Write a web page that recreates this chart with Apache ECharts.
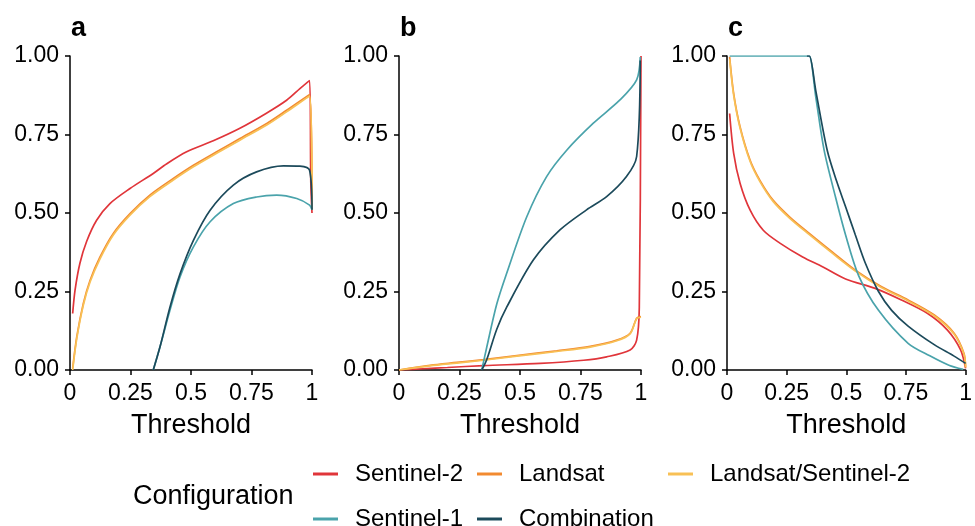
<!DOCTYPE html>
<html><head><meta charset="utf-8">
<script src="https://cdn.jsdelivr.net/npm/echarts@6/dist/echarts.min.js"></script>
<style>html,body{margin:0;padding:0;background:#fff}#c{width:975px;height:526px}</style>
</head><body><div id="c"></div>
<script>
// Series names / legend
const seriesNames = ['Sentinel-2', 'Landsat', 'Landsat/Sentinel-2', 'Sentinel-1', 'Combination'];
const panelLetters = ['a', 'b', 'c'];
const xTicks = [0, 0.25, 0.5, 0.75, 1];
const yTicks = [0, 0.25, 0.5, 0.75, 1];

// Panel a: [threshold, value]
const a_S2 = [[0.011,0.18],[0.021,0.255],[0.041,0.34],[0.069,0.41],[0.11,0.477],[0.165,0.53],[0.248,0.578],[0.344,0.626],[0.40,0.657],[0.482,0.695],[0.592,0.73],[0.70,0.769],[0.81,0.817],[0.895,0.859],[0.95,0.896],[0.99,0.922],[0.995,0.60],[1.0,0.50]];
const a_L = [[0.011,0.005],[0.028,0.106],[0.055,0.212],[0.083,0.286],[0.124,0.36],[0.179,0.435],[0.248,0.498],[0.33,0.557],[0.427,0.61],[0.51,0.652],[0.606,0.695],[0.702,0.737],[0.813,0.785],[0.895,0.827],[0.99,0.877],[1.0,0.51]];
const a_LS2 = [[0.011,0.0],[0.028,0.10],[0.055,0.206],[0.083,0.28],[0.124,0.354],[0.179,0.43],[0.248,0.493],[0.33,0.552],[0.427,0.605],[0.51,0.647],[0.606,0.69],[0.702,0.732],[0.813,0.78],[0.895,0.822],[0.99,0.872],[1.0,0.51]];
const a_S1 = [[0.344,0.0],[0.372,0.074],[0.413,0.19],[0.455,0.297],[0.51,0.392],[0.579,0.472],[0.675,0.53],[0.771,0.551],[0.854,0.557],[0.937,0.546],[0.99,0.525],[1.0,0.51]];
const a_Comb = [[0.344,0.0],[0.372,0.074],[0.413,0.2],[0.455,0.307],[0.51,0.413],[0.579,0.509],[0.675,0.589],[0.771,0.631],[0.882,0.65],[0.95,0.649],[0.99,0.636],[1.0,0.51]];

// Panel b
const b_S2 = [[0.0,0.0],[0.1,0.004],[0.2,0.008],[0.35,0.014],[0.583,0.021],[0.763,0.031],[0.858,0.042],[0.955,0.064],[0.982,0.095],[0.993,0.2],[1.0,1.0]];
const b_L = [[0.0,0.0],[0.128,0.015],[0.239,0.024],[0.35,0.033],[0.487,0.046],[0.652,0.061],[0.79,0.075],[0.9,0.095],[0.955,0.117],[0.982,0.165],[1.0,0.17]];
const b_LS2 = [[0.0,0.0],[0.128,0.013],[0.239,0.022],[0.35,0.031],[0.487,0.044],[0.652,0.059],[0.79,0.073],[0.9,0.093],[0.955,0.115],[0.982,0.163],[1.0,0.168]];
const b_S1 = [[0.342,0.0],[0.363,0.074],[0.404,0.21],[0.445,0.308],[0.528,0.488],[0.61,0.616],[0.693,0.70],[0.803,0.786],[0.913,0.86],[0.982,0.924],[0.997,0.997]];
const b_Comb = [[0.342,0.0],[0.362,0.032],[0.404,0.13],[0.445,0.2],[0.555,0.35],[0.665,0.446],[0.775,0.51],[0.858,0.552],[0.94,0.616],[0.982,0.68],[0.997,0.986]];

// Panel c
const c_S2 = [[0.011,0.817],[0.028,0.69],[0.055,0.594],[0.097,0.509],[0.152,0.445],[0.22,0.405],[0.317,0.36],[0.4,0.329],[0.497,0.29],[0.621,0.26],[0.731,0.223],[0.841,0.18],[0.924,0.127],[0.979,0.064],[1.0,0.005]];
const c_L = [[0.011,0.997],[0.028,0.88],[0.055,0.774],[0.097,0.668],[0.138,0.604],[0.193,0.541],[0.262,0.488],[0.345,0.435],[0.441,0.376],[0.538,0.318],[0.648,0.265],[0.759,0.223],[0.869,0.175],[0.952,0.117],[0.993,0.053],[1.0,0.01]];
const c_LS2 = [[0.011,0.99],[0.028,0.875],[0.055,0.77],[0.097,0.664],[0.138,0.6],[0.193,0.537],[0.262,0.484],[0.345,0.431],[0.441,0.372],[0.538,0.315],[0.648,0.262],[0.759,0.22],[0.869,0.172],[0.952,0.114],[0.993,0.05],[1.0,0.008]];
const c_S1 = [[0.011,1.0],[0.335,1.0],[0.345,1.0],[0.372,0.87],[0.407,0.70],[0.455,0.55],[0.497,0.43],[0.552,0.30],[0.635,0.19],[0.759,0.085],[0.85,0.045],[0.93,0.015],[0.99,0.002]];
const c_Comb = [[0.335,1.0],[0.345,1.0],[0.372,0.89],[0.42,0.70],[0.46,0.60],[0.497,0.52],[0.538,0.43],[0.58,0.34],[0.635,0.25],[0.69,0.19],[0.759,0.14],[0.87,0.08],[0.95,0.045],[1.0,0.021]];

const panelData = [
  [a_S2, a_L, a_LS2, a_S1, a_Comb],
  [b_S2, b_L, b_LS2, b_S1, b_Comb],
  [c_S2, c_L, c_LS2, c_S1, c_Comb]
];
const colors = ['#e0353a', '#f28a30', '#f8c055', '#4aa3ab', '#1c4a5b'];

const FONT = '"Liberation Sans", Arial, sans-serif';
const gridLefts = [70, 399, 727];
const gridW = 242;

const grids = [], xAxes = [], yAxes = [], series = [];
for (let p = 0; p < 3; p++) {
  grids.push({left: gridLefts[p], top: 56, width: gridW, height: 314, containLabel: false});
  xAxes.push({
    type: 'value', gridIndex: p, min: 0, max: 1, interval: 0.25,
    name: 'Threshold', nameLocation: 'middle', nameGap: 42,
    nameTextStyle: {fontFamily: FONT, fontSize: 27, color: '#000'},
    axisLine: {show: true, lineStyle: {color: '#000', width: 1.5}},
    axisTick: {show: true, length: 5, lineStyle: {color: '#000', width: 1.5}},
    axisLabel: {fontFamily: FONT, fontSize: 23, color: '#000', margin: 12,
      formatter: v => String(v)},
    splitLine: {show: false}
  });
  yAxes.push({
    type: 'value', gridIndex: p, min: 0, max: 1, interval: 0.25,
    axisLine: {show: true, lineStyle: {color: '#000', width: 1.5}},
    axisTick: {show: true, length: 5, lineStyle: {color: '#000', width: 1.5}},
    axisLabel: {fontFamily: FONT, fontSize: 23, color: '#000', margin: 11,
      formatter: v => v.toFixed(2)},
    splitLine: {show: false}
  });
  panelData[p].forEach((d, i) => {
    series.push({
      type: 'line', name: seriesNames[i], xAxisIndex: p, yAxisIndex: p,
      data: d, showSymbol: false, symbol: 'none', smooth: 0.3,
      lineStyle: {color: colors[i], width: 1.7}, itemStyle: {color: colors[i]},
      z: 2 + i
    });
  });
}

const legendPos = [
  {left: 313, top: 462}, {left: 477, top: 462}, {left: 668, top: 462},
  {left: 313, top: 507}, {left: 477, top: 507}
];
const legends = seriesNames.map((n, i) => ({
  data: [n], left: legendPos[i].left, top: legendPos[i].top, padding: 0,
  icon: 'rect', itemWidth: 25, itemHeight: 3,
  textStyle: {fontFamily: FONT, fontSize: 24, color: '#000', padding: [0, 0, 0, 12]},
  selectedMode: false
}));

const graphics = panelLetters.map((t, p) => ({
  type: 'text', left: gridLefts[p] + 1, top: 15,
  style: {text: t, fontFamily: FONT, fontWeight: 'bold', fontSize: 27, fill: '#000'}
}));
graphics.push({type: 'text', left: 133, top: 483,
  style: {text: 'Configuration', fontFamily: FONT, fontSize: 27, fill: '#000'}});

const chart = echarts.init(document.getElementById('c'), null, {renderer: 'canvas'});
chart.setOption({
  animation: false, backgroundColor: '#fff', color: colors,
  grid: grids, xAxis: xAxes, yAxis: yAxes, series: series,
  legend: legends, graphic: graphics
});
</script></body></html>
